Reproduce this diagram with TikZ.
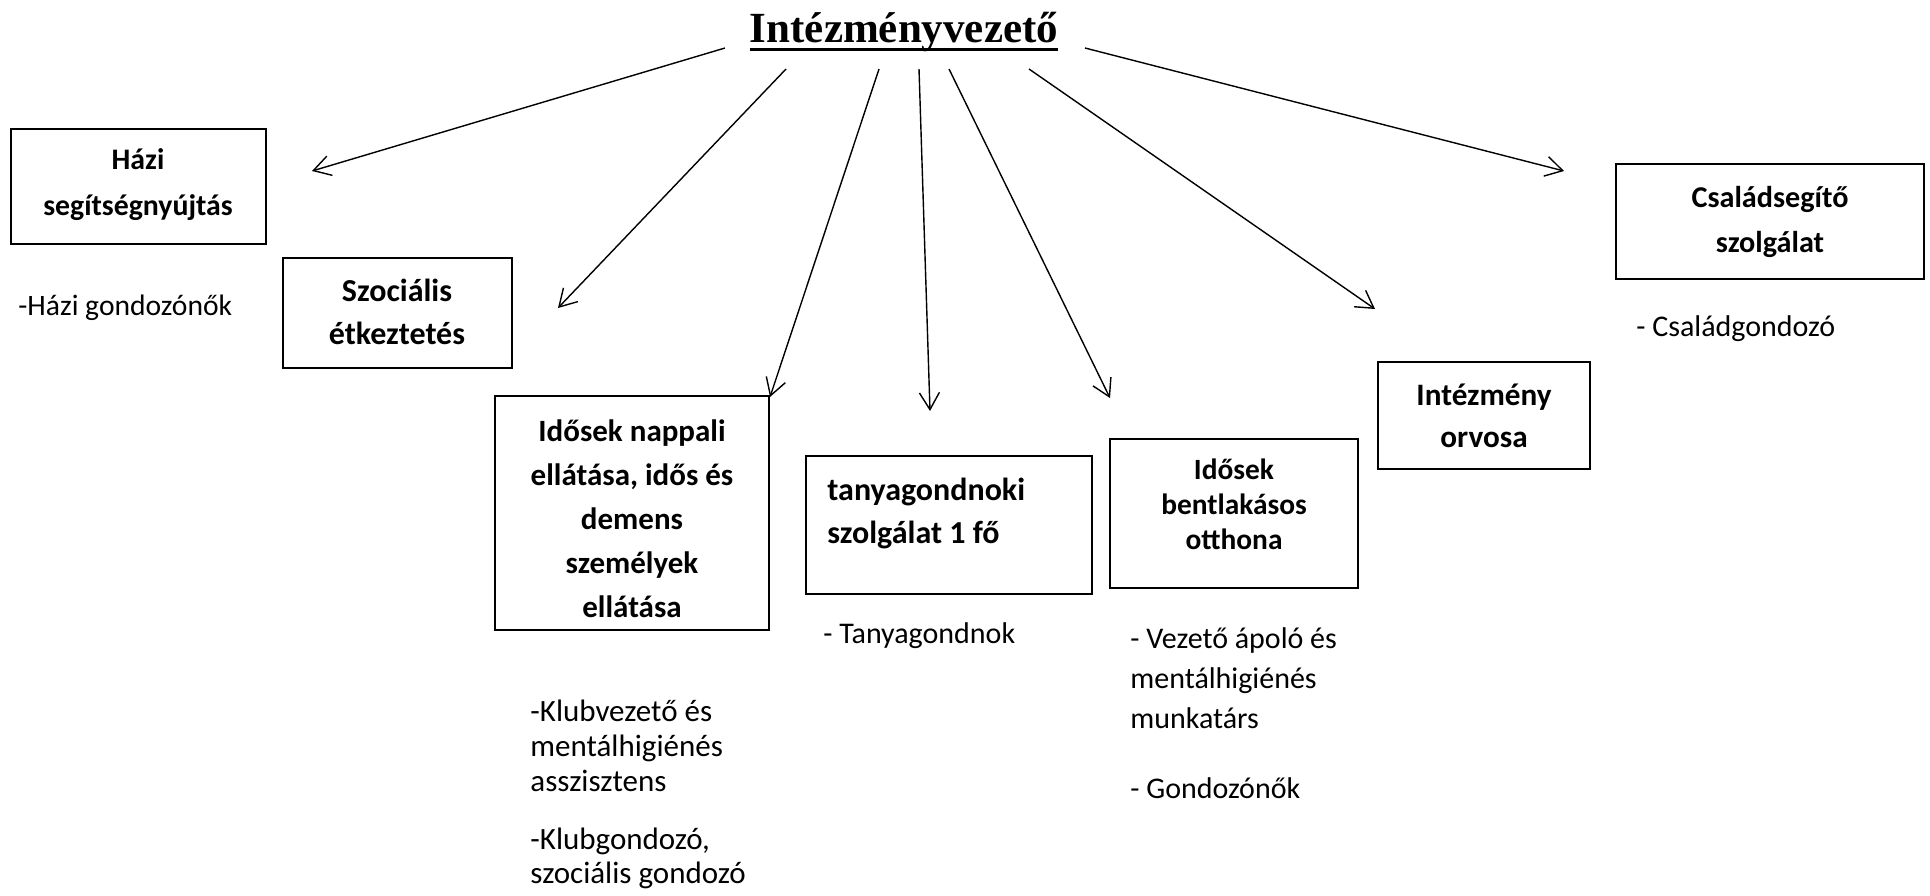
\documentclass[tikz,border=0pt]{standalone}
\usepackage{fontspec}
\setmainfont{Carlito}
\newfontfamily\titlefont{Liberation Serif}
\usetikzlibrary{arrows.meta,fit}
\begin{document}
\begin{tikzpicture}[x=0.5pt,y=-0.5pt,
  box/.style={draw,line width=1pt,inner sep=0pt},
  btxt/.style 2 args={font=\bfseries\fontsize{#1}{#2}\selectfont,align=center,inner sep=0pt},
  ptxt/.style 2 args={font=\fontsize{#1}{#2}\selectfont,align=left,inner sep=0pt,anchor=west},
  arr/.style={-{Straight Barb[length=8.5pt,width=10pt]},line width=0.7pt}]
\useasboundingbox (0,0) rectangle (1930,895);

% title
\node[font=\titlefont\bfseries\fontsize{21.5}{26}\selectfont,anchor=base,inner sep=0pt] (title) at (904,42) {Intézményvezető};
\draw[line width=1.5pt] ([yshift=-3.5pt]title.base west) -- ([yshift=-3.5pt]title.base east);

% boxes
\node[box,fit={(11,129)(266,244)}] (hazi) {};
\node[box,fit={(283,258)(512,368)}] (szoc) {};
\node[box,fit={(495,396)(769,630)}] (nappali) {};
\node[box,fit={(806,456)(1092,594)}] (tanya) {};
\node[box,fit={(1110,439)(1358,588)}] (bent) {};
\node[box,fit={(1378,362)(1590,469)}] (orvos) {};
\node[box,fit={(1616,164)(1924,279)}] (csal) {};

% box texts
\node[btxt={14.9}{23}] (haziT) at (138,185) {Házi\\segítségnyújtás};
\node[btxt={16}{21.5}] (szocT) at (397,311.5) {Szociális\\étkeztetés};
\node[btxt={15.5}{22}] (nappaliT) at (632,519) {Idősek nappali\\ellátása, idős és\\demens\\személyek\\ellátása};
\node[btxt={16}{21.5},align=left,anchor=west] (tanyaT) at (827,513.5) {tanyagondnoki\\szolgálat 1 fő};
\node[btxt={14.7}{17.5}] (bentT) at (1234,504) {Idősek\\bentlakásos\\otthona};
\node[btxt={15.6}{21}] (orvosT) at (1484,416) {Intézmény\\orvosa};
\node[btxt={15.1}{22.5}] (csalT) at (1770,222) {Családsegítő\\szolgálat};

% staff texts
\node[ptxt={14.8}{18}] (haziS) at (18,308) {-Házi gondozónők};
\node[ptxt={15}{18}] (csalS) at (1636,329) {- Családgondozó};
\node[ptxt={15}{18}] (tanyaS) at (823,636) {- Tanyagondnok};
\node[ptxt={15}{20}] (bentS1) at (1130,678) {- Vezető ápoló és\\mentálhigiénés\\munkatárs};
\node[ptxt={15}{18}] (bentS2) at (1130,788) {- Gondozónők};
\node[ptxt={15.5}{17.5}] (napS1) at (530,745.5) {-Klubvezető és\\mentálhigiénés\\asszisztens};
\node[ptxt={15.5}{17}] (napS2) at (530,858) {-Klubgondozó,\\szociális gondozó};

% arrow coordinates
\coordinate (s1) at (725,48);   \coordinate (t1) at (312,171);
\coordinate (s2) at (786,69);   \coordinate (t2) at (558,308);
\coordinate (s3) at (879,69);   \coordinate (t3) at (770,397);
\coordinate (s4) at (919,69);   \coordinate (t4) at (930,411);
\coordinate (s5) at (949,69);   \coordinate (t5) at (1110,398);
\coordinate (s6) at (1029,69);  \coordinate (t6) at (1375,309);
\coordinate (s7) at (1085,48);  \coordinate (t7) at (1564,171);

\draw[arr] (s1) -- (t1);
\draw[arr] (s2) -- (t2);
\draw[arr] (s3) -- (t3);
\draw[arr] (s4) -- (t4);
\draw[arr] (s5) -- (t5);
\draw[arr] (s6) -- (t6);
\draw[arr] (s7) -- (t7);
\end{tikzpicture}
\end{document}
